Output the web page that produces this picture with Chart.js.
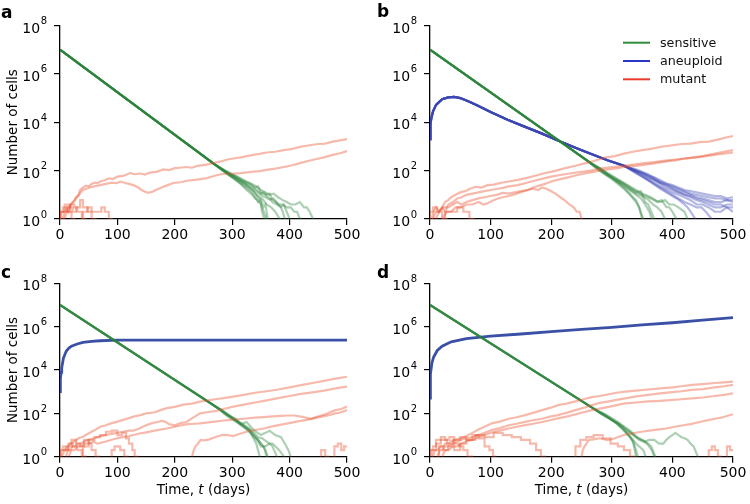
<!DOCTYPE html>
<html><head><meta charset="utf-8">
<script src="https://cdn.jsdelivr.net/npm/chart.js@4.4.1/dist/chart.umd.min.js"></script>
<style>
html,body{margin:0;padding:0;background:#fff;}
#wrap{position:relative;width:750px;height:504px;background:#fff;}
canvas{position:absolute;left:0;top:0;}
</style></head>
<body><div id="wrap">
<canvas id="ca" width="750" height="504"></canvas>
<canvas id="cb" width="750" height="504"></canvas>
<canvas id="cc" width="750" height="504"></canvas>
<canvas id="cd" width="750" height="504"></canvas>
</div>
<script>
// Values are log10(number of cells). X = extinct (0 cells, below axis).
const X = -1;
const yTickExponents = [0, 2, 4, 6, 8];
const xTickValues = [0, 100, 200, 300, 400, 500];
const legendLabels = ['sensitive', 'aneuploid', 'mutant'];

// ---------- panel a ----------
const aSensStart = [[0,7],[270,2.25]];
const aSensTails = [
 [[285,2.0],[295,1.85],[305,1.7],[315,1.55],[322,1.45],[330,1.3],[337,1.15],[345,0.9],[350,0.78],[355,0.5],[358,0.6],[362,0],[362,X]],
 [[285,2.05],[295,1.9],[305,1.78],[315,1.65],[325,1.52],[332,1.45],[340,1.3],[345,1.35],[350,1.1],[360,1.0],[365,1.05],[370,0.8],[377,0.7],[385,0.5],[390,0.6],[395,0.3],[400,0],[400,X]],
 [[285,1.98],[295,1.8],[305,1.62],[315,1.45],[325,1.28],[332,1.15],[340,0.9],[345,0.7],[349,0.78],[352,0.3],[356,0],[356,X]],
 [[285,2.02],[295,1.9],[305,1.8],[315,1.68],[322,1.58],[330,1.5],[340,1.38],[350,1.2],[358,1.1],[365,1.0],[372,1.05],[380,0.9],[388,0.78],[395,0.7],[402,0.6],[410,0.6],[418,0.7],[425,0.48],[430,0.48],[435,0.3],[441,0],[441,X]],
 [[285,2.0],[295,1.85],[305,1.72],[315,1.58],[325,1.42],[335,1.28],[342,1.15],[350,1.0],[358,0.9],[365,0.8],[372,0.85],[380,0.6],[388,0.6],[395,0.48],[402,0.48],[408,0.3],[413,0.3],[418,0],[418,X]],
 [[285,1.97],[295,1.8],[305,1.65],[315,1.45],[325,1.2],[333,1.05],[340,0.85],[345,0.78],[350,0.6],[355,0.3],[360,0],[360,X]],
 [[285,2.03],[295,1.88],[305,1.75],[315,1.6],[325,1.48],[335,1.35],[343,1.2],[350,1.05],[355,1.1],[360,0.95],[365,0.85],[370,0.7],[378,0.6],[385,0.48],[388,0.3],[392,0],[392,X]],
 [[285,2.0],[295,1.83],[305,1.68],[315,1.52],[325,1.35],[335,1.2],[345,0.95],[352,0.85],[360,0.6],[368,0.48],[375,0.3],[383,0],[383,X]]
];
const aMutLong = [
 [[5,0],[8,0.3],[12,0.48],[15,0.3],[18,0.6],[22,0.7],[25,0.78],[28,0.9],[32,1.0],[35,1.2],[40,1.3],[45,1.38],[50,1.35],[55,1.45],[60,1.5],[65,1.48],[70,1.55],[78,1.6],[85,1.68],[92,1.65],[100,1.75],[110,1.78],[122,1.9],[130,1.85],[140,1.88],[148,1.84],[157,1.92],[168,1.95],[180,2.05],[190,2.02],[200,2.1],[209,2.12],[220,2.15],[230,2.12],[240,2.2],[255,2.25],[267,2.31],[280,2.38],[290,2.45],[302,2.5],[315,2.55],[330,2.62],[345,2.68],[360,2.75],[375,2.78],[390,2.85],[405,2.9],[418,2.98],[435,3.05],[450,3.1],[462,3.12],[475,3.2],[488,3.25],[500,3.3]],
 [[8,0],[12,0.3],[16,0.48],[20,0.6],[24,0.7],[28,0.85],[32,0.95],[36,1.1],[40,1.2],[46,1.25],[52,1.3],[60,1.35],[70,1.4],[80,1.45],[90,1.5],[98,1.48],[105,1.54],[112,1.5],[120,1.45],[128,1.4],[135,1.32],[142,1.2],[148,1.13],[154,1.08],[160,1.12],[167,1.2],[174,1.27],[182,1.35],[190,1.42],[197,1.49],[210,1.52],[222,1.58],[235,1.62],[245,1.65],[256,1.69],[268,1.78],[280,1.85],[290,1.87],[302,1.88],[315,1.9],[326,1.93],[337,1.96],[348,1.98],[360,2.03],[375,2.08],[390,2.15],[405,2.22],[418,2.31],[432,2.4],[445,2.47],[460,2.55],[475,2.65],[488,2.72],[500,2.81]]
];
const aMutShort = [
 [[0,0],[5,0.3],[12,0.48],[18,0.3],[25,0.6],[30,0.48],[38,0.3],[45,0],[45,X]],
 [[2,0],[8,0.3],[15,0.6],[22,0.48],[28,0.3],[35,0.48],[40,0.78],[48,0.48],[55,0.3],[62,0],[62,X]],
 [[0,0],[10,0.3],[20,0.3],[25,0],[25,X]],
 [[40,0],[48,0.3],[55,0.48],[62,0.3],[72,0.3],[78,0.48],[85,0.3],[90,0],[90,X]]
];

// ---------- panel b ----------
const bSensStart = [[0,7],[260,2.4]];
const bSensTails = [
 [[270,2.22],[280,2.05],[290,1.88],[300,1.7],[310,1.52],[320,1.3],[328,1.1],[335,0.9],[340,0.78],[345,0.5],[350,0],[350,X]],
 [[270,2.25],[280,2.1],[290,1.92],[300,1.75],[310,1.6],[320,1.45],[330,1.28],[340,1.1],[348,1.15],[355,0.7],[360,0.6],[365,0.3],[370,0],[370,X]],
 [[270,2.2],[280,2.0],[290,1.82],[300,1.65],[310,1.45],[320,1.25],[328,1.05],[335,0.85],[340,0.7],[345,0.48],[352,0],[352,X]],
 [[270,2.25],[280,2.1],[290,1.95],[300,1.8],[310,1.65],[320,1.5],[330,1.35],[340,1.2],[350,1.05],[360,0.95],[368,0.85],[375,0.7],[382,0.78],[390,0.5],[395,0.48],[400,0.3],[407,0],[407,X]],
 [[270,2.22],[280,2.05],[290,1.88],[300,1.7],[310,1.52],[320,1.35],[330,1.18],[340,1.0],[348,0.85],[355,0.6],[362,0.3],[366,0],[366,X]],
 [[270,2.2],[280,2.0],[290,1.85],[300,1.7],[310,1.55],[320,1.4],[330,1.22],[340,1.05],[350,0.95],[360,0.8],[368,0.6],[375,0.48],[382,0.3],[388,0],[388,X]],
 [[270,2.25],[280,2.1],[290,1.92],[300,1.75],[310,1.6],[320,1.45],[330,1.3],[340,1.15],[350,1.0],[360,0.9],[370,0.78],[380,0.7],[388,0.78],[395,0.6],[402,0.6],[410,0.48],[420,0.3],[425,0],[425,X]]
];
const bAneuStart = [[0,3.3],[0.5,3.7],[1,3.9],[2,4.15],[5,4.45],[10,4.72],[20,4.95],[30,5.03],[40,5.05],[50,5.0],[65,4.85],[80,4.67],[100,4.42],[128,4.1],[155,3.83],[184,3.54],[210,3.26],[240,2.95],[265,2.7],[294,2.42],[320,2.2]];
const bAneuTails = [
 [[330,2.12],[340,2.0],[350,1.92],[360,1.8],[370,1.72],[380,1.6],[390,1.48],[400,1.4],[410,1.3],[420,1.2],[430,1.15],[440,1.1],[450,1.05],[460,1.0],[470,0.95],[480,0.95],[490,0.85],[500,0.9]],
 [[330,2.08],[340,1.95],[350,1.85],[360,1.7],[370,1.6],[380,1.45],[390,1.3],[400,1.2],[410,1.1],[420,1.0],[430,0.95],[440,0.85],[450,0.78],[460,0.7],[470,0.6],[480,0.6],[490,0.48],[500,0.48]],
 [[330,2.1],[340,2.0],[350,1.88],[360,1.75],[370,1.62],[380,1.5],[390,1.42],[400,1.3],[410,1.2],[420,1.1],[430,1.0],[440,0.9],[450,0.85],[460,0.78],[470,0.7],[480,0.7],[490,0.78],[500,0.78]],
 [[330,2.05],[340,1.9],[350,1.75],[360,1.6],[370,1.45],[380,1.3],[390,1.15],[400,1.0],[410,0.85],[420,0.7],[430,0.6],[440,0.48],[448,0.48],[455,0.3],[465,0],[465,X]],
 [[330,2.12],[340,2.05],[350,1.95],[360,1.85],[370,1.7],[380,1.55],[390,1.45],[400,1.35],[410,1.25],[420,1.15],[430,1.05],[440,1.0],[450,0.95],[460,0.9],[470,0.85],[480,0.85],[490,0.78],[500,0.7]],
 [[330,2.08],[340,1.95],[350,1.8],[360,1.65],[370,1.5],[380,1.35],[390,1.22],[400,1.1],[410,1.0],[420,0.9],[430,0.78],[440,0.6],[450,0.6],[460,0.48],[470,0.3],[480,0.3],[490,0.48],[500,0.3]],
 [[330,2.05],[340,1.9],[350,1.75],[360,1.6],[370,1.42],[380,1.25],[390,1.1],[400,0.95],[410,0.8],[420,0.6],[425,0.48],[430,0.3],[438,0],[438,X]],
 [[330,2.1],[340,2.0],[350,1.9],[360,1.8],[370,1.65],[380,1.5],[390,1.38],[400,1.25],[410,1.12],[420,1.0],[430,0.9],[440,0.78],[450,0.7],[460,0.6],[470,0.48],[480,0.48],[490,0.6],[500,0.6]]
];
const bMutLong = [
 [[3,0],[6,0.3],[10,0.48],[15,0.3],[20,0.48],[25,0.7],[30,0.78],[35,0.9],[42,1.0],[50,1.1],[58,1.15],[66,1.25],[75,1.33],[85,1.3],[95,1.4],[105,1.42],[118,1.5],[130,1.55],[145,1.62],[160,1.7],[175,1.8],[190,1.9],[205,1.98],[220,2.08],[240,2.2],[255,2.3],[270,2.4],[290,2.55],[305,2.6],[320,2.7],[335,2.78],[350,2.85],[365,2.9],[380,2.98],[400,3.05],[415,3.1],[430,3.12],[445,3.18],[460,3.2],[475,3.28],[490,3.38],[500,3.43]],
 [[10,0],[15,0.3],[20,0.48],[25,0.3],[30,0.6],[38,0.7],[45,0.85],[52,0.9],[60,1.0],[70,1.05],[80,1.1],[90,1.15],[100,1.2],[112,1.25],[122,1.3],[130,1.35],[145,1.4],[160,1.5],[175,1.6],[188,1.68],[200,1.75],[215,1.82],[230,1.88],[250,1.95],[265,2.0],[280,2.08],[300,2.15],[320,2.2],[335,2.25],[350,2.3],[370,2.35],[385,2.4],[400,2.45],[420,2.5],[435,2.55],[450,2.6],[470,2.7],[485,2.78],[500,2.85]],
 [[20,0],[28,0.3],[35,0.3],[42,0.48],[50,0.48],[60,0.6],[70,0.6],[80,0.7],[88,0.6],[95,0.65],[105,0.78],[112,0.85],[120,0.9],[130,0.95],[138,1.0],[145,1.07],[155,1.15],[162,1.2],[170,1.3],[180,1.38],[190,1.45],[200,1.55],[215,1.65],[228,1.72],[240,1.8],[255,1.88],[270,1.95],[280,2.0],[295,2.05],[310,2.1],[320,2.15],[340,2.2],[355,2.25],[370,2.3],[390,2.38],[405,2.42],[420,2.5],[440,2.55],[455,2.6],[470,2.65],[485,2.7],[500,2.75]],
 [[5,0],[10,0.3],[15,0.3],[22,0.48],[30,0.48],[38,0.6],[45,0.7],[52,0.6],[60,0.7],[70,0.78],[80,0.85],[90,0.9],[100,0.95],[110,1.0],[120,1.08],[130,1.05],[140,1.1],[150,1.15],[160,1.2],[170,1.25],[178,1.2],[185,1.3],[192,1.25],[200,1.15],[207,1.05],[215,0.9],[222,0.78],[230,0.6],[237,0.48],[242,0.3],[247,0.3],[250,0],[250,X]]
];
const bMutShort = [
 [[0,0],[5,0.3],[12,0.48],[20,0.3],[28,0],[28,X]],
 [[25,0],[35,0.3],[45,0.3],[55,0.48],[65,0.3],[72,0],[72,X]]
];

// ---------- panel c ----------
const cSensStart = [[0,7],[270,2.33]];
const cSensTails = [
 [[280,2.15],[290,1.95],[300,1.78],[310,1.6],[320,1.42],[330,1.2],[335,1.05],[340,0.9],[345,0.78],[350,0.6],[358,0.3],[362,0],[362,X]],
 [[280,2.18],[290,2.0],[298,1.85],[305,1.75],[315,1.5],[320,1.55],[325,1.6],[330,1.45],[335,1.3],[342,1.15],[350,1.0],[358,1.1],[365,1.2],[370,1.1],[375,1.0],[385,0.9],[392,0.6],[398,0.3],[402,0],[402,X]],
 [[280,2.15],[290,1.95],[300,1.78],[310,1.6],[320,1.42],[330,1.25],[338,1.0],[345,0.78],[350,0.6],[355,0.48],[360,0],[360,X]],
 [[280,2.12],[290,1.9],[300,1.72],[310,1.55],[320,1.35],[330,1.15],[340,0.85],[345,0.7],[350,0.48],[358,0.48],[365,0.6],[370,0.6],[375,0.48],[382,0.3],[390,0],[390,X]],
 [[280,2.18],[290,2.0],[300,1.82],[310,1.65],[320,1.48],[330,1.3],[338,1.1],[345,0.9],[352,0.85],[360,0.7],[365,0.6],[370,0.48],[378,0],[378,X]],
 [[280,2.15],[290,1.95],[300,1.78],[310,1.6],[320,1.4],[330,1.2],[336,0.9],[342,0.6],[348,0],[348,X]]
];
const cAneu = [[0,3.0],[0.3,3.3],[1,3.6],[2,3.9],[3,4.1],[6,4.55],[11,4.88],[16,5.02],[20,5.1],[30,5.2],[40,5.27],[55,5.32],[70,5.35],[100,5.38],[500,5.38]];
const cMutLong = [
 [[3,0],[8,0.3],[12,0.46],[18,0.6],[25,0.7],[32,0.85],[40,0.92],[48,1.05],[55,1.15],[62,1.25],[70,1.38],[80,1.45],[90,1.55],[100,1.62],[110,1.7],[120,1.78],[128,1.85],[140,1.92],[150,2.0],[158,2.02],[165,2.05],[175,2.15],[186,2.24],[200,2.3],[215,2.4],[230,2.45],[244,2.54],[258,2.6],[270,2.65],[285,2.7],[302,2.77],[320,2.85],[340,2.95],[360,3.02],[380,3.1],[400,3.2],[420,3.3],[440,3.4],[460,3.5],[480,3.6],[500,3.69]],
 [[10,0],[14,0.3],[18,0.3],[22,0.48],[26,0.48],[30,0.6],[35,0.6],[42,0.7],[50,0.78],[60,0.85],[70,0.95],[80,1.0],[90,1.05],[100,1.1],[110,1.15],[120,1.2],[128,1.2],[138,1.3],[150,1.45],[160,1.55],[170,1.6],[177,1.65],[183,1.62],[190,1.5],[200,1.45],[210,1.55],[220,1.6],[232,1.8],[244,2.0],[256,2.05],[270,2.1],[285,2.2],[302,2.31],[320,2.4],[340,2.5],[360,2.6],[380,2.7],[400,2.8],[420,2.9],[440,2.97],[460,3.05],[480,3.15],[500,3.23]],
 [[15,0],[20,0.3],[25,0.3],[30,0.48],[35,0.48],[42,0.6],[50,0.6],[58,0.7],[65,0.6],[72,0.65],[80,0.7],[90,0.78],[100,0.85],[110,0.9],[120,0.95],[128,1.0],[140,1.08],[150,1.12],[165,1.2],[175,1.25],[186,1.3],[200,1.38],[212,1.45],[223,1.5],[235,1.52],[244,1.54],[258,1.58],[270,1.62],[282,1.66],[292,1.69],[305,1.72],[320,1.75],[340,1.8],[355,1.83],[370,1.86],[385,1.88],[397,1.9],[408,1.9],[420,1.85],[428,1.8],[437,1.75],[445,1.82],[452,1.88],[462,1.95],[470,2.05],[480,2.15],[490,2.2],[500,2.31]],
 [[230,0],[233,0.3],[236,0.48],[240,0.6],[245,0.77],[252,0.75],[260,0.8],[270,0.9],[282,1.0],[292,1.0],[302,0.95],[312,1.05],[325,1.15],[340,1.23],[355,1.3],[370,1.4],[385,1.48],[397,1.54],[412,1.62],[430,1.7],[444,1.78],[456,1.85],[468,1.92],[480,2.0],[490,2.05],[500,2.15]]
];
const cMutShort = [
 [[0,0],[5,0.3],[10,0.48],[15,0.3],[22,0.6],[30,0.48],[38,0.3],[45,0],[45,X]],
 [[2,0],[8,0.3],[14,0.3],[20,0.48],[28,0.78],[35,0.6],[42,0.48],[50,0.78],[55,0.6],[62,0.3],[68,0],[68,X]],
 [[40,0],[50,0.48],[60,0.78],[70,0.9],[80,1.0],[90,1.15],[100,1.2],[108,1.0],[115,1.1],[120,0.85],[126,0.6],[130,0.3],[135,0],[135,X]],
 [[90,0],[95,0.3],[105,0.48],[112,0.3],[118,0],[118,X]],
 [[455,0],[462,0.3],[468,0],[468,X]],
 [[478,0],[484,0.48],[490,0.6],[495,0.3],[500,0.48]]
];

// ---------- panel d ----------
const dSensStart = [[0,7],[270,2.22]];
const dSensTails = [
 [[280,2.05],[290,1.88],[298,1.75],[305,1.6],[312,1.42],[320,1.2],[325,1.05],[330,0.9],[335,0.7],[338,0.48],[343,0],[343,X]],
 [[280,2.02],[290,1.85],[300,1.68],[310,1.5],[318,1.3],[325,1.1],[330,0.95],[335,0.78],[340,0.6],[345,0.48],[352,0.3],[356,0],[356,X]],
 [[280,2.05],[290,1.9],[300,1.72],[310,1.55],[318,1.38],[325,1.2],[333,1.05],[340,0.9],[348,0.78],[355,0.7],[360,0.6],[365,0.48],[372,0],[372,X]],
 [[280,2.08],[290,1.95],[300,1.78],[310,1.6],[320,1.4],[330,1.2],[338,1.0],[345,0.85],[350,0.78],[355,0.7],[362,0.78],[370,0.78],[378,0.6],[385,0.6],[390,0.78],[395,0.9],[400,1.0],[405,1.1],[410,1.0],[415,0.9],[420,0.85],[425,0.78],[430,0.6],[435,0.48],[442,0],[442,X]],
 [[280,2.05],[290,1.9],[300,1.7],[310,1.5],[318,1.3],[325,1.1],[330,0.9],[335,0.7],[340,0],[340,X]],
 [[280,2.02],[290,1.85],[300,1.7],[310,1.55],[320,1.35],[330,1.15],[338,0.95],[345,0.78],[352,0.7],[358,0.6],[366,0.3],[370,0],[370,X]]
];
const dAneu = [[0,2.7],[0.3,3.2],[1,3.8],[3,4.3],[6,4.6],[12,4.9],[20,5.1],[35,5.3],[60,5.45],[100,5.56],[150,5.66],[200,5.77],[250,5.87],[300,5.97],[350,6.08],[400,6.18],[450,6.3],[500,6.42]];
const dMutLong = [
 [[5,0],[8,0.3],[12,0.3],[18,0.48],[22,0.48],[25,0.6],[30,0.6],[35,0.7],[42,0.78],[50,0.85],[56,0.9],[63,1.0],[70,1.1],[80,1.25],[90,1.38],[102,1.54],[115,1.62],[130,1.75],[143,1.82],[157,1.92],[170,2.02],[185,2.15],[198,2.25],[211,2.38],[225,2.45],[240,2.55],[253,2.65],[267,2.75],[280,2.8],[295,2.88],[308,2.95],[322,3.0],[340,3.05],[360,3.1],[380,3.15],[400,3.2],[415,3.25],[432,3.31],[450,3.35],[470,3.4],[485,3.43],[500,3.46]],
 [[12,0],[16,0.3],[20,0.3],[25,0.48],[30,0.48],[38,0.6],[45,0.7],[52,0.78],[60,0.85],[70,0.9],[80,1.0],[90,1.1],[102,1.23],[115,1.32],[130,1.45],[143,1.52],[157,1.61],[170,1.68],[185,1.75],[198,1.85],[211,1.92],[225,2.02],[240,2.15],[253,2.25],[267,2.38],[280,2.48],[295,2.55],[308,2.62],[322,2.69],[340,2.78],[360,2.85],[380,2.92],[400,2.98],[415,3.02],[432,3.08],[450,3.12],[470,3.2],[485,3.25],[500,3.31]],
 [[20,0],[25,0.3],[30,0.3],[38,0.48],[45,0.48],[52,0.6],[60,0.7],[70,0.78],[80,0.9],[90,1.0],[100,1.1],[115,1.2],[130,1.3],[143,1.38],[157,1.46],[170,1.52],[185,1.6],[198,1.68],[211,1.77],[225,1.85],[240,1.95],[253,2.05],[267,2.15],[280,2.22],[295,2.3],[308,2.38],[322,2.46],[340,2.5],[360,2.55],[380,2.58],[400,2.62],[415,2.65],[432,2.69],[450,2.73],[470,2.8],[485,2.85],[500,2.92]],
 [[250,0],[252,0.3],[255,0.48],[258,0.6],[262,0.77],[270,0.8],[280,0.85],[288,0.8],[294,0.77],[305,0.85],[320,1.0],[335,1.08],[349,1.15],[362,1.2],[375,1.25],[390,1.3],[404,1.38],[418,1.45],[430,1.5],[445,1.6],[459,1.69],[470,1.75],[480,1.8],[490,1.88],[500,1.96]]
];
const dMutShort = [
 [[0,0],[5,0.3],[10,0.48],[18,0.78],[25,0.9],[32,0.78],[40,0.9],[48,0.6],[55,0.48],[62,0.3],[70,0],[70,X]],
 [[3,0],[10,0.3],[18,0.6],[28,0.78],[38,0.6],[50,0.78],[60,0.9],[70,0.78],[80,1.0],[90,0.85],[98,0.48],[104,0.3],[108,0],[108,X]],
 [[15,0],[22,0.48],[30,0.3],[40,0.48],[50,0.3],[60,0.6],[75,0.78],[90,1.0],[105,0.9],[120,1.1],[135,1.0],[150,0.9],[165,0.78],[175,0.6],[183,0.3],[190,0],[190,X]],
 [[240,0],[248,0.48],[258,0.78],[270,0.9],[285,1.0],[298,0.85],[310,0.6],[320,0.48],[330,0.3],[337,0],[337,X]],
 [[460,0],[465,0.3],[470,0.48],[475,0.3],[480,0],[480,X]],
 [[490,0],[495,0.48],[500,0.3]]
];

// ---------- styles ----------
const C_SENS = 'rgba(40,128,55,0.38)';
const C_ANEU_T = 'rgba(55,65,180,0.38)';
const C_ANEU = '#3a50a6';
const C_MUT = 'rgba(232,80,45,0.40)';
const LEG_COLORS = ['#2e8b3a', '#2b35c8', '#ee3a2e'];
const FONT = 'DejaVu Sans';
const TITLE_PX = 13.5;
Chart.defaults.font.family = FONT;

function pts(a){ return a.map(p => ({x:p[0], y:p[1]})); }
function ds(data, color, opts){ return Object.assign({data:pts(data), borderColor:color, borderWidth:2.2, pointRadius:0, fill:false, clip:0}, opts||{}); }

function buildSets(mutLong, mutShort, sensStart, sensTails, aneuStart, aneuTails, aneuSolid){
  const out = [];
  mutLong.forEach(m => out.push(ds(m, C_MUT)));
  mutShort.forEach(m => out.push(ds(m, C_MUT, {stepped:'after'})));
  sensTails.forEach(t => out.push(ds(sensStart.concat(t), C_SENS)));
  if (aneuTails) aneuTails.forEach(t => out.push(ds(aneuStart.concat(t), C_ANEU_T)));
  if (aneuSolid) out.push(ds(aneuSolid, C_ANEU, {borderWidth:2.8}));
  return out;
}

const decor = {
  id:'decor',
  afterDraw(chart, args, o){
    const ctx = chart.ctx, ca = chart.chartArea, ys = chart.scales.y;
    ctx.save();
    ctx.fillStyle = '#000';
    // y tick labels 10^n with real superscript
    yTickExponents.forEach(v => {
      const y = ys.getPixelForValue(v);
      const right = ca.left - 13;
      ctx.font = '10px ' + FONT; ctx.textAlign = 'right'; ctx.textBaseline = 'middle';
      const sw = ctx.measureText(String(v)).width;
      ctx.fillText(String(v), right, y - 4);
      ctx.font = '14px ' + FONT;
      ctx.fillText('10', right - sw - 0.5, y + 3.5);
    });
    ctx.font = 'bold 17px ' + FONT;
    ctx.textAlign = 'left'; ctx.textBaseline = 'alphabetic';
    ctx.fillText(o.letter, o.lx, o.ly);
    if (o.yTitle){
      ctx.save();
      ctx.translate(17, (ca.top + ca.bottom)/2);
      ctx.rotate(-Math.PI/2);
      ctx.font = TITLE_PX + 'px ' + FONT;
      ctx.textAlign = 'center'; ctx.textBaseline = 'alphabetic';
      ctx.fillText('Number of cells', 0, 0);
      ctx.restore();
    }
    if (o.xTitle){
      const parts = [['Time, ', ''], ['t', 'italic '], [' (days)', '']];
      let w = 0;
      parts.forEach(p => { ctx.font = p[1] + TITLE_PX + 'px ' + FONT; w += ctx.measureText(p[0]).width; });
      let x = (ca.left + ca.right)/2 - w/2;
      ctx.textAlign = 'left';
      parts.forEach(p => { ctx.font = p[1] + TITLE_PX + 'px ' + FONT; ctx.fillText(p[0], x, 494); x += ctx.measureText(p[0]).width; });
    }
    if (o.legend){
      const rows = [42.7, 61, 79.3];
      legendLabels.forEach((lab, i) => {
        ctx.strokeStyle = LEG_COLORS[i]; ctx.lineWidth = 2;
        ctx.beginPath(); ctx.moveTo(623, rows[i]); ctx.lineTo(650, rows[i]); ctx.stroke();
        ctx.fillStyle = '#111'; ctx.font = '12.7px ' + FONT;
        ctx.textAlign = 'left'; ctx.textBaseline = 'middle';
        ctx.fillText(lab, 660, rows[i] + 0.5);
      });
    }
    ctx.restore();
  }
};

function makeChart(id, datasets, pad, deco){
  return new Chart(document.getElementById(id), {
    type:'line',
    data:{datasets},
    plugins:[decor],
    options:{
      responsive:false, animation:false, devicePixelRatio:1, events:[],
      layout:{padding:pad},
      plugins:{legend:{display:false}, tooltip:{enabled:false}, decor:deco},
      elements:{line:{tension:0}, point:{radius:0}},
      scales:{
        x:{type:'linear', min:0, max:500,
           afterBuildTicks(s){ s.ticks = xTickValues.map(v => ({value:v})); },
           ticks:{color:'#000', font:{size:14, family:FONT}, maxRotation:0, padding:2},
           grid:{drawOnChartArea:false, tickLength:6, color:'#000', lineWidth:1.2},
           border:{color:'#000', width:1.3},
           afterFit(s){ s.height = 30; }},
        y:{type:'linear', min:0, max:8,
           afterBuildTicks(s){ s.ticks = yTickExponents.map(v => ({value:v})); },
           ticks:{display:false},
           grid:{drawOnChartArea:false, tickLength:6, color:'#000', lineWidth:1.2},
           border:{color:'#000', width:1.3},
           afterFit(s){ s.width = 40; }}
      }
    }
  });
}

makeChart('ca', buildSets(aMutLong, aMutShort, aSensStart, aSensTails, null, null, null),
  {left:20, right:403, top:25.5, bottom:255}, {letter:'a', lx:1, ly:18, yTitle:true});
makeChart('cb', buildSets(bMutLong, bMutShort, bSensStart, bSensTails, bAneuStart, bAneuTails, null),
  {left:390, right:17, top:25.5, bottom:255}, {letter:'b', lx:377, ly:17, legend:true});
makeChart('cc', buildSets(cMutLong, cMutShort, cSensStart, cSensTails, null, null, cAneu),
  {left:20, right:403, top:283.3, bottom:17.3}, {letter:'c', lx:1, ly:278, yTitle:true, xTitle:true});
makeChart('cd', buildSets(dMutLong, dMutShort, dSensStart, dSensTails, null, null, dAneu),
  {left:390, right:17, top:283.3, bottom:17.3}, {letter:'d', lx:377, ly:278, xTitle:true});
</script></body></html>
